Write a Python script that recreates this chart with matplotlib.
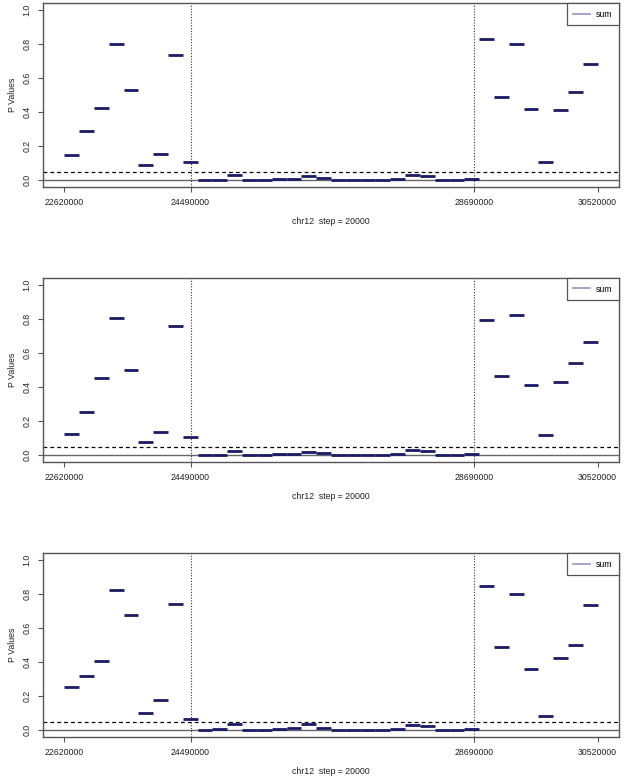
import numpy as np
import matplotlib
matplotlib.use("Agg")
import matplotlib.pyplot as plt
from matplotlib.lines import Line2D

plt.rcParams['font.family'] = ['Liberation Sans', 'DejaVu Sans']

# Genomic window range (chr12) and tick labels
x_start, x_end = 22620000, 30520000
n_windows = 36
x_ticks = [22620000, 24490000, 28690000, 30520000]
boundaries = [24490000, 28690000]
y_ticks = [0.0, 0.2, 0.4, 0.6, 0.8, 1.0]
threshold = 0.05
xlabel = "chr12  step = 20000"
ylabel = "P Values"
legend_label = "sum"

# P values per window, three panels
pv1_left = [0.150, 0.291, 0.426, 0.797, 0.527, 0.090, 0.154, 0.732, 0.104]
pv1_mid = [0.002, 0.004, 0.031, 0.002, 0.002, 0.008, 0.008, 0.025, 0.010, 0.002,
           0.002, 0.002, 0.003, 0.008, 0.033, 0.027, 0.002, 0.002, 0.008]
pv1_right = [0.826, 0.490, 0.801, 0.420, 0.107, 0.414, 0.520, 0.684]

pv2_left = [0.125, 0.254, 0.455, 0.803, 0.502, 0.076, 0.139, 0.758, 0.105]
pv2_mid = [0.002, 0.004, 0.023, 0.002, 0.002, 0.006, 0.006, 0.020, 0.010, 0.002,
           0.002, 0.002, 0.003, 0.006, 0.031, 0.023, 0.003, 0.003, 0.008]
pv2_right = [0.795, 0.465, 0.824, 0.414, 0.117, 0.428, 0.539, 0.666]

pv3_left = [0.252, 0.316, 0.404, 0.822, 0.676, 0.100, 0.176, 0.738, 0.068]
pv3_mid = [0.002, 0.006, 0.039, 0.002, 0.004, 0.008, 0.012, 0.036, 0.010, 0.002,
           0.002, 0.002, 0.003, 0.008, 0.033, 0.025, 0.002, 0.002, 0.008]
pv3_right = [0.844, 0.490, 0.801, 0.361, 0.086, 0.424, 0.502, 0.732]

panels = [pv1_left + pv1_mid + pv1_right,
          pv2_left + pv2_mid + pv2_right,
          pv3_left + pv3_mid + pv3_right]

W, H = 625, 781
fig = plt.figure(figsize=(W / 100, H / 100), dpi=100)

edges = np.linspace(x_start, x_end, n_windows + 1)
xr = x_end - x_start
xlim = (x_start - 0.04 * xr, x_end + 0.04 * xr)

boxes = [(3, 187), (278, 462), (553, 737)]
seg_color = '#1a1a66'
frame_color = '#555555'

for vals, (top, bot) in zip(panels, boxes):
    ax = fig.add_axes([43 / W, 1 - bot / H, (619 - 43) / W, (bot - top) / H])
    ax.set_xlim(*xlim)
    ax.set_ylim(-0.04, 1.04)
    ax.axhline(0, color='#666666', lw=1.0, zorder=1)
    ax.axhline(threshold, color='black', lw=0.9, ls=(0, (3, 2.5)), zorder=1)
    for b in boundaries:
        ax.axvline(b, color='#333333', lw=0.8, ls=(0, (1, 1.5)), zorder=1)
    ax.hlines(vals, edges[:-1], edges[1:], color=seg_color, lw=2.0, zorder=3)

    ax.set_xticks(x_ticks)
    ax.set_xticklabels([str(t) for t in x_ticks], fontsize=6.3, color='#222222')
    ax.set_yticks(y_ticks)
    ax.set_yticklabels([f"{t:.1f}" for t in y_ticks], fontsize=6.3,
                       rotation=90, va='center', color='#222222')
    ax.tick_params(axis='both', direction='out', length=3.6, width=0.8,
                   color=frame_color, pad=4.5)
    for s in ax.spines.values():
        s.set_color(frame_color)
        s.set_linewidth(1.0)
    ax.set_xlabel(xlabel, fontsize=6.3, labelpad=7, color='#222222')
    ax.set_ylabel(ylabel, fontsize=6.3, labelpad=4, color='#222222')

    handle = Line2D([], [], color='#9494c8', lw=1.2)
    leg = ax.legend([handle], [legend_label], loc='upper right', fontsize=6.3,
                    fancybox=False, framealpha=1, edgecolor=frame_color,
                    borderaxespad=0, handlelength=1.9, borderpad=0.75,
                    handletextpad=0.7)
    leg.get_frame().set_linewidth(0.9)

fig.savefig("out.png", dpi=100)
